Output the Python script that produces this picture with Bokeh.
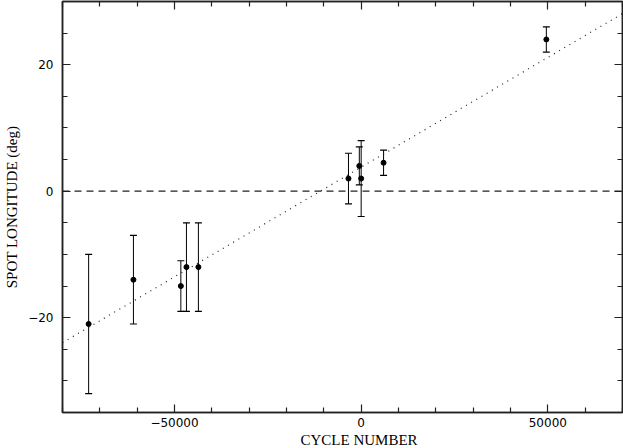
from bokeh.plotting import figure
from bokeh.models import (ColumnDataSource, Whisker, TeeHead, LinearAxis, FixedTicker,
                          Span, Title, Range1d)
from bokeh.embed import file_html
from bokeh.resources import INLINE

# ---- data ----
cycles = [-73000, -61000, -48300, -46800, -43600, -3400, -500, 0, 6000, 49600]
longitude = [-21, -14, -15, -12, -12, 2, 4, 2, 4.5, 24]
errors = [11, 7, 4, 7, 7, 4, 3, 6, 2, 2]

fit_slope = 3.47e-4       # deg per cycle
fit_intercept = 3.8       # deg at cycle 0

x_major = [-50000, 0, 50000]
x_minor = [-80000, -70000, -60000, -40000, -30000, -20000, -10000,
           10000, 20000, 30000, 40000, 60000, 70000]
x_tick_labels = ["\u221250000", "0", "50000"]
y_major = [-20, 0, 20]
y_minor = [-35, -30, -25, -15, -10, -5, 5, 10, 15, 25, 30]
y_tick_labels = ["\u221220", "0", "20"]

x_range = (-80000, 70000)
y_range = (-35, 30)

x_title = "CYCLE NUMBER"
y_title = "SPOT LONGITUDE (deg)"

# ---- figure ----
p = figure(width=623, height=448, output_backend="svg", toolbar_location=None,
           x_range=Range1d(*x_range), y_range=Range1d(*y_range),
           min_border_left=62, min_border_right=1, min_border_top=1,
           min_border_bottom=36)
p.xgrid.visible = False
p.ygrid.visible = False
p.outline_line_color = "#222222"
p.outline_line_width = 1.5
p.background_fill_color = "white"
p.border_fill_color = "white"


def style_axis(ax, major, minor, labels, show_labels, standoff):
    ax.ticker = FixedTicker(ticks=major, minor_ticks=minor)
    ax.major_tick_in = 8
    ax.major_tick_out = 0
    ax.minor_tick_in = 5
    ax.minor_tick_out = 0
    ax.axis_line_color = "#222222"
    ax.axis_line_width = 1.5
    ax.major_tick_line_color = "#222222"
    ax.minor_tick_line_color = "#222222"
    ax.major_tick_line_width = 1.2
    ax.minor_tick_line_width = 1.2
    if show_labels:
        ax.major_label_overrides = {t: s for t, s in zip(major, labels)}
        ax.major_label_text_font = "DejaVu Sans"
        ax.major_label_text_font_size = "12px"
        ax.major_label_text_color = "black"
        ax.major_label_standoff = standoff
    else:
        ax.major_label_text_font_size = "0px"
        ax.major_label_standoff = 0
        ax.major_label_overrides = {t: "" for t in major}


style_axis(p.xaxis[0], x_major, x_minor, x_tick_labels, True, 5)
style_axis(p.yaxis[0], y_major, y_minor, y_tick_labels, True, 9)

# y-axis title
yax = p.yaxis[0]
yax.axis_label = y_title
yax.axis_label_text_font = "Liberation Serif"
yax.axis_label_text_font_size = "15px"
yax.axis_label_text_font_style = "normal"
yax.axis_label_text_color = "black"
yax.axis_label_standoff = 5

top_ax = LinearAxis()
style_axis(top_ax, x_major, x_minor, x_tick_labels, False, 0)
p.add_layout(top_ax, "above")
right_ax = LinearAxis()
style_axis(right_ax, y_major, y_minor, y_tick_labels, False, 0)
p.add_layout(right_ax, "right")

# x-axis title, placed below the axis
p.add_layout(Title(text=x_title, align="left", offset=238, standoff=0,
                   text_font="Liberation Serif", text_font_size="15px",
                   text_font_style="normal", text_color="black"), "below")

# zero line (dashed)
p.add_layout(Span(location=0, dimension="width", line_color="#222222",
                  line_width=1.2, line_dash="7 5"))

# fitted line (dotted)
fit_x = list(x_range)
fit_y = [fit_slope * v + fit_intercept for v in fit_x]
p.line(fit_x, fit_y, line_color="#222222", line_width=1.2, line_dash="1 5")

# error bars
src = ColumnDataSource(dict(
    x=cycles, y=longitude,
    upper=[v + e for v, e in zip(longitude, errors)],
    lower=[v - e for v, e in zip(longitude, errors)],
))
p.add_layout(Whisker(source=src, base="x", upper="upper", lower="lower",
                     dimension="height", line_color="black", line_width=1,
                     upper_head=TeeHead(size=7, line_color="black", line_width=1.2),
                     lower_head=TeeHead(size=7, line_color="black", line_width=1.2)))

p.scatter("x", "y", source=src, marker="circle", size=5,
          fill_color="black", line_color="black")

open("out.html", "w").write(file_html(p, INLINE))
